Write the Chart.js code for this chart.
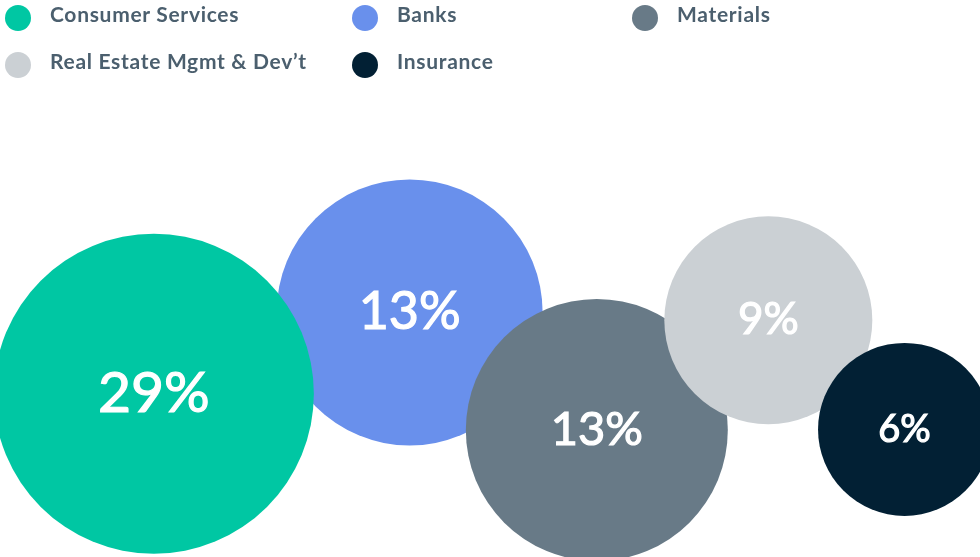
<!DOCTYPE html>
<html>
<head>
<meta charset="utf-8">
<script src="https://cdn.jsdelivr.net/npm/chart.js@4.4.1/dist/chart.umd.min.js"></script>
<style>
  body { margin: 0; background: #fff; }
  .wrap { position: relative; width: 980px; height: 557px; overflow: hidden; }
  .wrap canvas { position: absolute; left: 0; top: 0; }
  .legend {
    position: absolute; left: 5px; top: 5px;
    display: grid; grid-template-columns: 347px 280px 300px; grid-auto-rows: 47px;
    font-family: Lato, sans-serif; font-weight: bold; font-size: 21px; letter-spacing: 0.7px; color: #4b5f6e;
  }
  .legend .item { display: flex; align-items: flex-start; }
  .legend .dot { width: 26px; height: 26px; border-radius: 50%; flex: none; margin-right: 19px; }
  .legend .txt { line-height: 20px; margin-top: -1px; white-space: nowrap; }
</style>
</head>
<body>
<div class="wrap">
  <canvas id="bubbles" width="980" height="557"></canvas>
  <div class="legend" id="legend"></div>
</div>
<script>
var categories = ["Consumer Services", "Banks", "Materials", "Real Estate Mgmt & Dev\u2019t", "Insurance"]
var shares = [29, 13, 13, 9, 6]          // percent shown in each bubble
var xValues = [15.7, 41.8, 60.9, 78.4, 92.3]
var yValues = [29.3, 43.9, 22.8, 42.5, 22.9]
var bubbleSizes = [160, 133, 131, 104, 86.5]

var colors = ['#00c7a3', '#6990ec', '#687a87', '#cbd0d4', '#022034']
var labelSizes = [57, 52, 47, 44, 38]
var stacking = [3, 4, 2, 1, 0] // lower = drawn on top

// legend built from the same arrays
var legend = document.getElementById("legend")
for (i = 0; i < categories.length; i++) {
    var item = document.createElement("div")
    item.className = "item"
    item.innerHTML = '<span class="dot" style="background:' + colors[i] + '"></span><span class="txt"></span>'
    item.querySelector(".txt").textContent = categories[i]
    legend.appendChild(item)
}

var pctLabels = {
    id: 'pctLabels',
    afterDatasetDraw: function(chart, args) {
        var i = args.index
        var el = args.meta.data[0]
        var ctx = chart.ctx
        ctx.save()
        ctx.fillStyle = '#ffffff'
        ctx.strokeStyle = '#ffffff'
        ctx.lineWidth = 1.2 // a bit heavier than Lato regular
        ctx.font = labelSizes[i] + 'px Lato, sans-serif'
        ctx.textAlign = 'center'
        ctx.textBaseline = 'middle'
        ctx.fillText(shares[i] + '%', el.x, el.y)
        ctx.strokeText(shares[i] + '%', el.x, el.y)
        ctx.restore()
    }
}

var ctx = document.getElementById("bubbles").getContext('2d')

var chart = new Chart(ctx, {
    type: 'bubble',
    data: {
        datasets: categories.map(function(name, i) {
            return {
                label: name,
                data: [{ x: xValues[i], y: yValues[i], r: bubbleSizes[i] }],
                backgroundColor: colors[i],
                borderWidth: 0,
                order: stacking[i],
                clip: false
            }
        })
    },
    options: {
        responsive: false,
        animation: false,
        events: [],
        layout: { padding: 0, autoPadding: false },
        scales: {
            x: { display: false, min: 0, max: 100 },
            y: { display: false, min: 0, max: 100 }
        },
        plugins: {
            legend: { display: false },
            tooltip: { enabled: false }
        }
    },
    plugins: [pctLabels]
})
</script>
</body>
</html>
